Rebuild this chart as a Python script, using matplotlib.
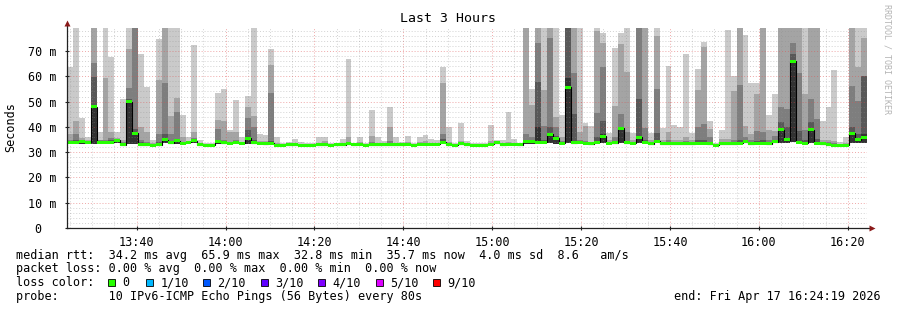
import numpy as np
import matplotlib
matplotlib.use("Agg")
import matplotlib.pyplot as plt
from matplotlib.patches import Rectangle
from matplotlib.ticker import MultipleLocator, FixedLocator

# ---------------- data ----------------
start_time = "13:24:19"          # first sample
step_seconds = 80                # one probe every 80 s
title = "Last 3 Hours"

# sorted ping layers (ms): top of each smoke band, outermost first
ping_p10 = [63.5, 80, 43.7, 35.8, 80, 37.8, 80, 67.8, 38, 51,
            80, 80, 69, 55.6, 35, 74.7, 80, 80, 80, 44.8,
            36, 72.3, 35, 33.8, 33.5, 53.2, 55, 38.7, 50.6, 35.8,
            52.3, 80, 37.1, 36.9, 70.7, 36, 33.8, 34.2, 35.1, 34.2,
            33.8, 33.8, 35.8, 35.8, 33.8, 33.8, 35.1, 66.8, 33.8, 35.8,
            33.8, 46.6, 35.8, 34.5, 48, 35.8, 34.2, 36.2, 33.8, 35.8,
            36.9, 35.1, 34.7, 63.5, 40, 33.8, 41.7, 34.5, 33.5, 33.8,
            33.8, 40.8, 34.7, 34.7, 46, 35.1, 33.8, 80, 55, 80,
            80, 80, 80, 44.7, 80, 80, 80, 41.5, 40.4, 80,
            77, 37.4, 71, 77, 80, 37.4, 80, 80, 37.4, 80,
            39.4, 64, 40.7, 40, 68.7, 37.4, 62.8, 73.5, 42.4, 33.5,
            38.7, 78.2, 60.2, 80, 76.3, 57.5, 57.2, 80, 44.8, 53,
            80, 80, 80, 80, 80, 80, 80, 42.4, 48, 62.4,
            34.2, 36, 80, 80, 80]
ping_p9 = [37, 42.4, 35.5, 34.8, 80, 35, 59.3, 38, 35.5, 35,
           70.7, 80, 39.8, 37.8, 33.5, 58.5, 80, 44.4, 51.4, 35.8,
           34.5, 37.8, 33.5, 33, 33, 42.7, 42.4, 37.8, 37.8, 34,
           47.7, 44.4, 34.5, 34.3, 64.5, 33.5, 33.2, 33.5, 33.5, 33.2,
           33, 33, 33.8, 34.5, 33, 33.5, 33.8, 35.8, 33.5, 34,
           33, 36.5, 33.8, 33.6, 39.8, 33.8, 33.5, 34, 33.2, 34,
           34.5, 33.8, 33.8, 57.5, 34, 33, 34.5, 33.5, 33, 33.2,
           33.2, 34.5, 34.2, 33.8, 34, 33.8, 33.2, 80, 48.5, 80,
           54.5, 80, 44, 36, 80, 80, 37.8, 40.4, 34, 78,
           73.2, 35, 48.2, 72.7, 61.8, 35, 80, 80, 35, 76,
           35, 38, 35, 35, 36, 35, 54.5, 71.5, 39, 33.2,
           35.1, 35.1, 54.2, 80, 40.4, 37.1, 53, 80, 38.7, 38.4,
           80, 80, 80, 80, 53, 80, 80, 35, 35, 34.5,
           33, 33.5, 80, 63.7, 75.3]
ping_p8 = [35, 37, 34.8, 34.5, 65.4, 34.7, 35, 35.5, 35, 34,
           55.3, 80, 35, 34, 33, 37, 57.5, 37, 46, 34,
           34.3, 35.5, 33.3, 32.8, 32.8, 39, 35, 34, 35, 33.7,
           43.7, 39.8, 34, 34, 53.2, 33.2, 33, 33.3, 33.3, 33,
           32.8, 32.8, 33.4, 33.5, 32.8, 33.3, 33.4, 34, 33.3, 33.6,
           32.8, 34, 33.4, 33.4, 34.5, 33.4, 33.3, 33.5, 33, 33.6,
           33.8, 33.5, 33.5, 37.1, 33.5, 32.8, 33.8, 33.3, 32.8, 33,
           33, 33.7, 34.1, 33.4, 33.6, 33.5, 33.1, 37, 36, 73,
           40.3, 75, 40, 34.5, 80, 61.5, 35, 34.5, 33.7, 45.3,
           63.5, 34, 36, 45, 38, 34, 80, 39.4, 34, 55,
           34, 35, 34, 34, 34.5, 34, 40, 41, 35.8, 33,
           34, 34, 35, 56.6, 36, 35, 38.4, 38, 35, 36.5,
           47.7, 47, 73, 61.5, 38.7, 51, 43, 34, 34, 33.5,
           32.8, 33, 56.2, 50.3, 60.2]
ping_p7 = [34.5, 35, 34.5, 34.3, 59.8, 34.5, 34.5, 35, 35, 33.5,
           51, 39, 34, 33.5, 32.8, 34, 37, 34.5, 35, 33.8,
           34.2, 35, 33.2, 32.7, 32.7, 35, 34.5, 33.7, 34.5, 33.6,
           38.7, 35, 33.7, 33.6, 34.5, 33, 32.9, 33.2, 33.2, 32.9,
           32.7, 32.7, 33.2, 33.3, 32.7, 33.2, 33.2, 33.6, 33.2, 33.4,
           32.7, 33.4, 33.2, 33.2, 33.5, 33.2, 33.2, 33.3, 32.9, 33.4,
           33.5, 33.3, 33.3, 35.1, 33.3, 32.6, 33.6, 33.2, 32.6, 32.9,
           32.9, 33.4, 34, 33.2, 33.4, 33.3, 33, 34.8, 35, 57.8,
           35, 40, 36.5, 34, 80, 45, 34.5, 34, 33.5, 36,
           42.4, 33.7, 34.5, 40, 34.5, 33.8, 51.2, 35, 33.7, 37.4,
           33.6, 34, 33.6, 33.6, 34, 33.7, 35, 35, 34, 32.9,
           33.7, 33.7, 34, 35, 35, 34, 34.5, 35, 34, 35,
           42, 40, 68.7, 38.4, 35, 42, 35.1, 33.7, 33.5, 33,
           32.6, 32.7, 40, 37, 60.2]
ping_p6 = [34.2, 34.5, 34.3, 34.2, 48.5, 34.3, 34.2, 34.3, 34.8, 33.3,
           50.5, 38, 33.5, 33.3, 32.7, 33.5, 35.5, 34, 34.7, 33.6,
           34.1, 34.8, 33.1, 32.6, 32.6, 34.5, 34, 33.6, 34.2, 33.5,
           36, 34, 33.6, 33.4, 33.8, 32.9, 32.9, 33.1, 33.1, 32.9,
           32.6, 32.6, 33.1, 33.1, 32.6, 33.1, 33.1, 33.4, 33.1, 33.3,
           32.7, 33.1, 33.1, 33.1, 33.2, 33.1, 33.1, 33.2, 32.8, 33.3,
           33.3, 33.2, 33.2, 34.3, 33.1, 32.5, 33.4, 33.1, 32.5, 32.8,
           32.8, 33.2, 33.9, 33.1, 33.2, 33.2, 33, 34.5, 34.4, 40,
           34.5, 37.5, 35.8, 33.8, 59.5, 34.2, 34.2, 33.8, 33.4, 34.2,
           37, 33.6, 34, 39.8, 34, 33.6, 36, 34.3, 33.5, 34.8,
           33.4, 33.6, 33.4, 33.4, 33.6, 33.5, 34, 34, 33.6, 32.8,
           33.5, 33.5, 33.6, 33.8, 34.5, 33.6, 33.8, 33.8, 33.6, 34.5,
           39.5, 35.5, 66.5, 34.5, 33.8, 39.5, 33.8, 33.5, 33.2, 32.8,
           32.5, 32.6, 38, 35.5, 37]
ping_min = [33.2, 33.3, 33.4, 33.3, 33.4, 33.3, 33.2, 33.2, 33.6, 32.6,
            33.3, 33.4, 32.6, 32.6, 32.3, 32.6, 33.5, 33.2, 33.4, 33,
            33.4, 33.8, 32.6, 32.3, 32.3, 33.4, 33.2, 33, 33.4, 33,
            33.4, 33.2, 33, 32.8, 33, 32.4, 32.4, 32.6, 32.6, 32.4,
            32.3, 32.3, 32.6, 32.6, 32.3, 32.6, 32.6, 32.8, 32.6, 32.7,
            32.3, 32.6, 32.6, 32.6, 32.6, 32.6, 32.6, 32.7, 32.4, 32.7,
            32.7, 32.6, 32.6, 33.2, 32.6, 32.3, 32.8, 32.6, 32.3, 32.4,
            32.4, 32.6, 33.2, 32.6, 32.6, 32.6, 32.6, 33.4, 33.4, 33.1,
            33.3, 33.6, 33.4, 33, 33.6, 33.2, 33.4, 33, 32.8, 33.3,
            33.6, 33, 33.2, 33.5, 33.2, 33, 33.6, 33.4, 32.9, 33.5,
            32.8, 32.8, 32.8, 32.8, 32.9, 32.9, 33, 33, 32.9, 32.3,
            32.9, 32.9, 32.9, 33, 33.5, 32.9, 33, 33, 32.9, 33.5,
            33.6, 33.6, 34, 33.4, 33, 33.6, 33, 32.9, 32.6, 32.3,
            32.3, 32.3, 33.6, 33.6, 33.8]
median_rtt = [34, 34, 34.2, 34, 48, 34, 34, 34, 34.7, 33,
              50, 37.5, 33, 33, 32.8, 33, 35, 33.8, 34.5, 33.5,
              34, 34.6, 33, 32.8, 32.8, 34.2, 33.8, 33.5, 34, 33.5,
              35.5, 33.8, 33.5, 33.3, 33.6, 32.8, 32.8, 33, 33, 32.8,
              32.8, 32.8, 33, 33, 32.8, 33, 33, 33.3, 33, 33.2,
              32.8, 33, 33, 33, 33, 33, 33, 33.1, 32.8, 33.2,
              33.2, 33.1, 33.1, 34, 33, 32.8, 33.3, 33, 32.8, 32.8,
              32.8, 33.1, 33.8, 33, 33.1, 33.1, 33, 34.2, 34.2, 33.9,
              34, 37, 35.5, 33.6, 55.7, 33.8, 34, 33.6, 33.3, 34,
              36.3, 33.5, 33.8, 39.5, 33.8, 33.5, 35.8, 34, 33.4, 34.3,
              33.3, 33.3, 33.3, 33.3, 33.4, 33.4, 33.6, 33.6, 33.4, 32.8,
              33.4, 33.4, 33.4, 33.6, 34.2, 33.4, 33.5, 33.5, 33.4, 34.2,
              38.9, 35, 65.9, 34, 33.5, 38.9, 33.5, 33.4, 33, 32.8,
              32.8, 32.8, 37.5, 35, 35.7]

x_tick_labels = ["13:40", "14:00", "14:20", "14:40", "15:00",
                 "15:20", "15:40", "16:00", "16:20"]
y_tick_values = [0, 10, 20, 30, 40, 50, 60, 70]
y_tick_labels = ["0  ", "10 m", "20 m", "30 m", "40 m", "50 m", "60 m", "70 m"]

legend_rows = [
    "median rtt:  34.2 ms avg  65.9 ms max  32.8 ms min  35.7 ms now  4.0 ms sd  8.6   am/s",
    "packet loss: 0.00 % avg  0.00 % max  0.00 % min  0.00 % now",
    "loss color:",
    "probe:       10 IPv6-ICMP Echo Pings (56 Bytes) every 80s",
]
loss_labels = ["0", "1/10", "2/10", "3/10", "4/10", "5/10", "9/10"]
loss_colors = ["#26ff00", "#00b8ff", "#0059ff", "#5e00ff", "#7e00ff", "#dd00ff", "#ff0000"]
end_text = "end: Fri Apr 17 16:24:19 2026"
watermark = "RRDTOOL / TOBI OETIKER"

smoke_colors = ["#cacaca", "#a4a4a4", "#7e7e7e", "#585858", "#323232"]

# ---------------- figure ----------------
W, H = 897, 310
MONO = "DejaVu Sans Mono"
plt.rcParams["font.family"] = MONO
fig = plt.figure(figsize=(W / 100, H / 100), dpi=100, facecolor="white")
ax = fig.add_axes([67 / W, (H - 228) / H, 800 / W, 200 / H])
ax.set_facecolor("white")

def to_min(s):
    p = [int(v) for v in s.split(":")]
    return p[0] * 60 + p[1] + (p[2] / 60 if len(p) > 2 else 0)

t0 = to_min(start_time)
n = len(median_rtt)
step = step_seconds / 60.0
x_left = np.arange(n) * step
edges = np.arange(n + 1) * step
pmin = np.array(ping_min)
med = np.array(median_rtt)

for tops, col in zip([ping_p10, ping_p9, ping_p8, ping_p7, ping_p6], smoke_colors):
    ax.bar(x_left, np.array(tops) - pmin, bottom=pmin, width=step, align="edge",
           color=col, linewidth=0, antialiased=False, zorder=2)

ax.stairs(med, edges, baseline=None, color="black", linewidth=0.8, zorder=3)
ax.bar(x_left, 1.2, bottom=med - 0.6, width=step, align="edge",
       color=loss_colors[0], linewidth=0, antialiased=False, zorder=4)

ax.set_xlim(0, n * step)
ax.set_ylim(0, 79.1)

xt = [to_min(s) - t0 for s in x_tick_labels]
ax.set_xticks(xt)
ax.set_xticklabels(x_tick_labels)
first_minor = (np.ceil(t0 / 5) * 5) - t0
ax.xaxis.set_minor_locator(FixedLocator(list(np.arange(first_minor, n * step, 5.0))))
ax.set_yticks(y_tick_values)
ax.set_yticklabels(y_tick_labels)
ax.yaxis.set_minor_locator(MultipleLocator(2))

ax.set_axisbelow(False)
ax.grid(which="minor", color="#8f8f8f", alpha=0.4, linestyle=(0, (1, 2)), linewidth=0.7)
ax.grid(which="major", color="#de5050", alpha=0.5, linestyle=(0, (1, 2)), linewidth=0.7)

for s in ["top", "right", "left", "bottom"]:
    ax.spines[s].set_visible(False)
ax.plot([0, 0], [0, 1.02], transform=ax.transAxes, clip_on=False, color="#222222", lw=0.9, zorder=6)
ax.plot([0, 1.004], [0, 0], transform=ax.transAxes, clip_on=False, color="#222222", lw=0.9, zorder=6)
ax.plot([0], [1.025], marker="^", ms=4, color="#8b1a1a", mec="none",
        transform=ax.transAxes, clip_on=False, zorder=7)
ax.plot([1.006], [0], marker=">", ms=4, color="#8b1a1a", mec="none",
        transform=ax.transAxes, clip_on=False, zorder=7)

ax.tick_params(axis="both", which="major", direction="inout", length=3, width=0.8,
               color="#222222", labelsize=8.5, labelcolor="black")
ax.tick_params(axis="both", which="minor", length=0)
ax.tick_params(axis="x", which="major", pad=4)
ax.tick_params(axis="y", which="major", pad=6)

def fx(px):
    return px / W

def fy(py):
    return 1 - py / H

fig.text(fx(448), fy(19), title, ha="center", va="center", fontsize=9.5, family=MONO)
fig.text(fx(11), fy(127), "Seconds", rotation=90, ha="center", va="center",
         fontsize=8.5, family=MONO)
fig.text(fx(887), fy(4), watermark, rotation=270, ha="center", va="top",
         fontsize=6, color="#b4b4b4", family=MONO)

row_y = [255, 268.5, 282.7, 296.7]
for txt, yy in zip(legend_rows, row_y):
    fig.text(fx(16), fy(yy), txt, ha="left", va="center", fontsize=8.5, family=MONO)

sq_x = [108, 146, 203, 261, 318, 376, 433]
for lab, col, sx in zip(loss_labels, loss_colors, sq_x):
    fig.patches.append(Rectangle((fx(sx), fy(286.2)), 7 / W, 7 / H, transform=fig.transFigure,
                                 facecolor=col, edgecolor="black", linewidth=0.6))
    fig.text(fx(sx + 14.5), fy(row_y[2]), lab, ha="left", va="center", fontsize=8.5, family=MONO)

fig.text(fx(881), fy(row_y[3]), end_text, ha="right", va="center", fontsize=8.5, family=MONO)

fig.savefig("out.png", dpi=100, facecolor="white")
